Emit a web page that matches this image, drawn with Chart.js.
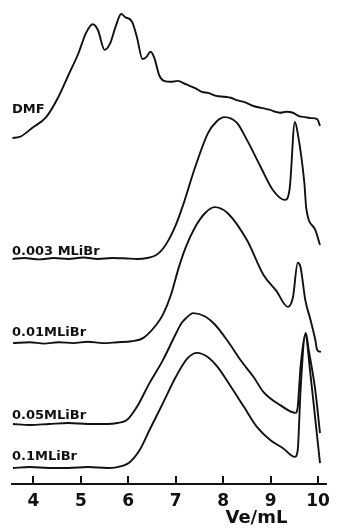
<!DOCTYPE html>
<html>
<head>
<meta charset="utf-8">
<script src="https://cdn.jsdelivr.net/npm/chart.js@4/dist/chart.umd.min.js"></script>
<style>
  html, body { margin: 0; padding: 0; background: #fff; }
  #wrap { width: 337px; height: 531px; position: relative; }
</style>
</head>
<body>
<div id="wrap"><canvas id="gpc"></canvas></div>
<script>
// Elution volume axis ticks (mL)
const veTicks = [4, 5, 6, 7, 8, 9, 10];

// Eluent names, top to bottom
const eluents = ['DMF', '0.003 MLiBr', '0.01MLiBr', '0.05MLiBr', '0.1MLiBr'];

// DMF
const veDMF  = [3.56, 3.71, 3.98, 4.27, 4.53, 4.74, 4.95, 5.11, 5.25, 5.36, 5.50, 5.62, 5.73, 5.85, 5.93, 6.08, 6.18, 6.30, 6.38, 6.47, 6.55, 6.65, 6.75, 6.90, 7.04, 7.21, 7.41, 7.55, 7.68, 7.85, 8.03, 8.16, 8.29, 8.45, 8.64, 8.80, 8.99, 9.10, 9.20, 9.33, 9.47, 9.60, 9.73, 9.85, 9.98, 10.04];
const sigDMF = [71.5, 71.7, 73.6, 75.8, 80.0, 84.5, 89.0, 93.2, 95.0, 93.8, 89.7, 91.1, 94.4, 97.1, 96.5, 95.5, 92.4, 87.8, 88.2, 89.3, 88.0, 84.5, 83.3, 83.1, 83.3, 82.6, 81.8, 81.0, 80.8, 80.2, 80.0, 79.8, 79.3, 78.9, 78.1, 77.7, 77.3, 76.9, 76.7, 76.9, 76.7, 76.0, 75.8, 75.6, 75.4, 74.0];

// 0.003 M LiBr
const ve003  = [3.56, 3.81, 4.12, 4.43, 4.74, 5.05, 5.36, 5.66, 5.97, 6.18, 6.40, 6.59, 6.73, 6.86, 7.00, 7.14, 7.41, 7.68, 7.85, 8.03, 8.29, 8.50, 8.79, 9.05, 9.30, 9.40, 9.51, 9.57, 9.71, 9.75, 9.94, 10.04];
const sig003 = [46.5, 46.7, 46.4, 46.7, 46.5, 46.8, 46.5, 46.7, 46.6, 46.5, 46.7, 47.3, 48.6, 50.6, 53.5, 57.2, 65.5, 72.5, 74.8, 75.8, 74.6, 71.1, 65.5, 60.7, 58.7, 61.0, 74.8, 72.5, 62.2, 57.0, 52.5, 49.4];

// 0.01 M LiBr
const ve001  = [3.57, 3.92, 4.23, 4.53, 4.84, 5.15, 5.46, 5.77, 6.07, 6.32, 6.59, 6.73, 6.90, 7.06, 7.21, 7.41, 7.62, 7.82, 8.09, 8.50, 8.85, 9.12, 9.36, 9.47, 9.57, 9.63, 9.73, 9.84, 9.94, 9.98, 10.06];
const sig001 = [29.1, 29.3, 29.0, 29.3, 29.1, 29.4, 29.1, 29.3, 29.5, 30.2, 32.9, 35.0, 39.1, 44.6, 48.9, 53.1, 56.0, 57.2, 56.0, 50.4, 43.2, 39.9, 36.6, 38.6, 45.7, 44.8, 38.0, 33.9, 29.8, 27.7, 27.3];

// 0.05 M LiBr
const ve005  = [3.57, 3.92, 4.33, 4.74, 5.15, 5.56, 5.77, 5.97, 6.18, 6.45, 6.73, 7.00, 7.12, 7.21, 7.37, 7.62, 7.82, 8.09, 8.38, 8.64, 8.85, 9.20, 9.53, 9.57, 9.63, 9.74, 9.80, 9.94, 10.04];
const sig005 = [12.4, 12.2, 12.4, 12.6, 12.4, 12.4, 12.6, 13.2, 15.9, 20.9, 25.6, 31.0, 33.2, 34.2, 35.3, 34.6, 33.0, 29.6, 25.4, 22.1, 19.0, 16.3, 14.7, 15.9, 24.2, 31.2, 27.8, 19.4, 10.5];

// 0.1 M LiBr
const ve01   = [3.57, 3.92, 4.33, 4.74, 5.15, 5.56, 5.77, 6.03, 6.24, 6.45, 6.73, 7.00, 7.25, 7.45, 7.68, 7.88, 8.17, 8.44, 8.71, 8.99, 9.26, 9.51, 9.57, 9.63, 9.73, 9.84, 9.94, 10.04];
const sig01  = [3.3, 3.5, 3.3, 3.3, 3.5, 3.3, 3.5, 4.5, 7.0, 11.2, 16.7, 22.1, 26.0, 27.1, 26.2, 24.2, 20.0, 15.9, 11.8, 9.1, 7.4, 5.6, 7.0, 19.4, 30.8, 22.5, 13.4, 4.3];

const traces = [[veDMF, sigDMF], [ve003, sig003], [ve001, sig001], [ve005, sig005], [ve01, sig01]];

// how far each eluent name sits above the start of its trace (px)
const nameLift = [25, 4, 7, 5, 8];

const INK = '#111';

const datasets = traces.map(([xs, ys], i) => ({
  label: eluents[i],
  data: xs.map((x, k) => ({ x, y: ys[k] })),
  borderColor: INK,
  borderWidth: 1.9,
  pointRadius: 0,
  cubicInterpolationMode: 'monotone',
  fill: false
}));

// inward tick marks, trace names and axis title
const decor = {
  id: 'decor',
  afterDraw(chart) {
    const { ctx, chartArea, scales } = chart;
    const xs = scales.x, ys = scales.y;
    ctx.save();
    ctx.strokeStyle = INK;
    ctx.lineWidth = 2;
    veTicks.forEach(v => {
      const px = Math.round(xs.getPixelForValue(v));
      ctx.beginPath();
      ctx.moveTo(px, chartArea.bottom);
      ctx.lineTo(px, chartArea.bottom - 8);
      ctx.stroke();
    });
    ctx.fillStyle = INK;
    ctx.font = 'bold 13px "DejaVu Sans"';
    ctx.textAlign = 'left';
    ctx.textBaseline = 'alphabetic';
    traces.forEach(([, sig], i) => {
      const py = ys.getPixelForValue(sig[0]);
      ctx.fillText(eluents[i], chartArea.left, py - nameLift[i]);
    });
    ctx.font = 'bold 18px "DejaVu Sans"';
    ctx.textAlign = 'center';
    ctx.fillText('Ve/mL', xs.getPixelForValue(8.7), chart.height - 8);
    ctx.restore();
  }
};

new Chart(document.getElementById('gpc'), {
  type: 'line',
  data: { datasets },
  options: {
    responsive: true,
    maintainAspectRatio: false,
    animation: false,
    layout: { padding: { left: 12, right: 2, top: 0, bottom: 0 } },
    plugins: { legend: { display: false }, tooltip: { enabled: false } },
    scales: {
      x: {
        type: 'linear',
        min: 3.55,
        max: 10.18,
        afterBuildTicks(scale) { scale.ticks = veTicks.map(v => ({ value: v })); },
        afterFit(scale) { scale.height = 47; },
        grid: { display: false, drawTicks: false },
        border: { display: true, color: INK, width: 2 },
        ticks: {
          color: INK,
          padding: 7,
          maxRotation: 0,
          font: { family: 'DejaVu Sans', size: 17, weight: 'bold' }
        }
      },
      y: { type: 'linear', min: 0, max: 100, display: false }
    }
  },
  plugins: [decor]
});
</script>
</body>
</html>
